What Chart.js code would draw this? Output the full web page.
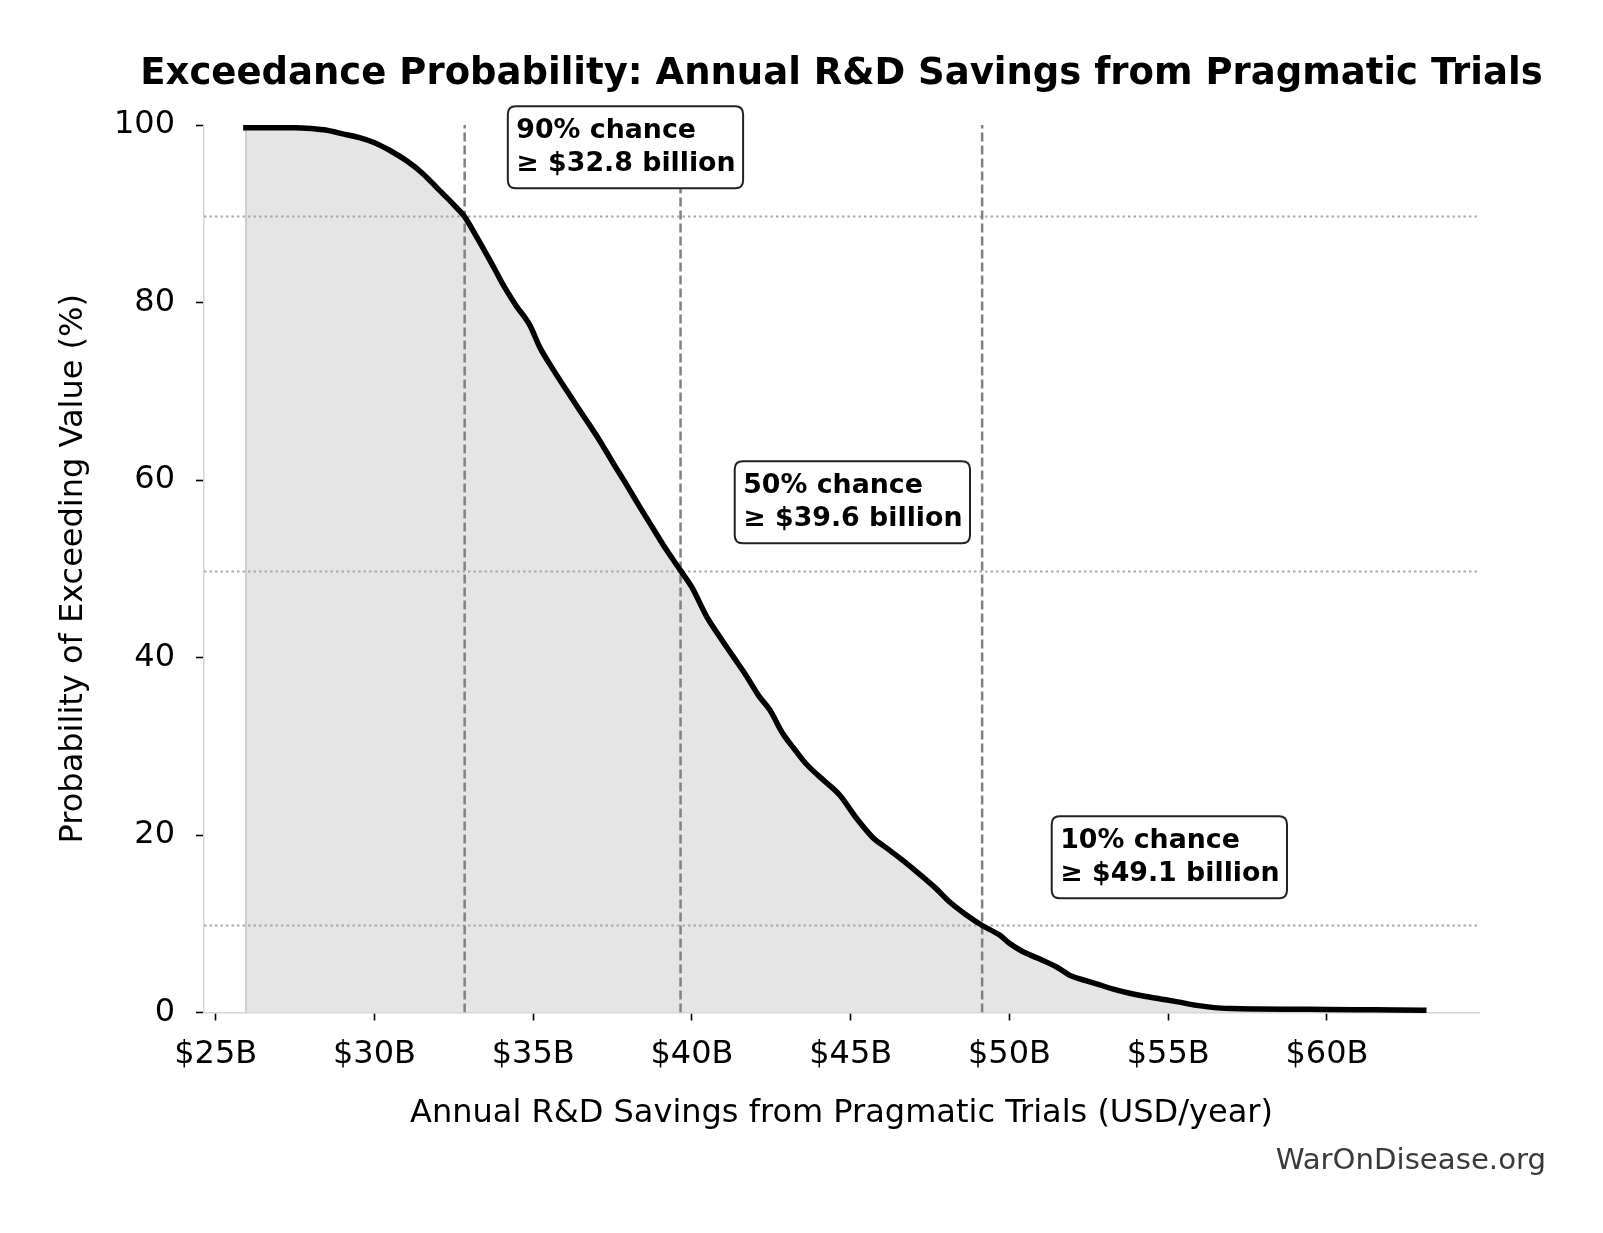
<!DOCTYPE html>
<html><head><meta charset="utf-8">
<script src="https://cdn.jsdelivr.net/npm/chart.js@4.4.1/dist/chart.umd.min.js"></script>
<style>html,body{margin:0;padding:0;background:#fff;}canvas{display:block;}</style>
</head><body>
<canvas id="c" width="1603" height="1233" style="width:1603px;height:1233px"></canvas>
<script>
// ---- data (USD billions / % probability of exceeding) ----
const savingsB = [25.95,26.5,27.0,27.5,28.0,28.5,29.0,29.5,30.0,30.5,31.0,31.5,32.0,32.5,32.83,33.2,33.75,34.1,34.45,34.9,35.2,35.6,36.05,36.4,36.7,37.1,37.5,37.95,38.35,38.8,39.2,39.66,40.0,40.45,40.9,41.3,41.7,42.1,42.45,42.85,43.2,43.6,44.2,44.65,45.2,45.7,46.1,46.55,47.1,47.65,48.1,48.6,49.14,49.7,50.0,50.4,50.9,51.5,51.95,52.4,52.85,53.3,53.75,54.3,54.8,55.3,55.9,56.45,57.0,57.8,59.0,60.0,61.5,63.05];
const exceedPct = [99.7,99.7,99.7,99.7,99.6,99.4,99.0,98.6,98.0,97.1,96.0,94.6,92.8,91.0,89.7,87.5,84.0,81.7,79.7,77.4,75.0,72.6,70.1,68.2,66.6,64.4,62.0,59.4,57.0,54.4,52.1,49.7,47.9,44.7,42.2,40.1,38.0,35.7,34.1,31.5,29.8,28.0,26.0,24.5,21.8,19.7,18.6,17.4,15.8,14.1,12.5,11.1,9.8,8.7,7.8,6.9,6.1,5.1,4.1,3.6,3.1,2.6,2.2,1.8,1.5,1.2,0.8,0.55,0.45,0.4,0.37,0.35,0.3,0.25];
const xTickValues = [25,30,35,40,45,50,55,60];
const yTickValues = [0,20,40,60,80,100];
const markerProb = [90,50,10];
const markerValueB = [32.84,39.64,49.14];
const markerExceedPct = [89.7,49.7,9.8];
const titleText = 'Exceedance Probability: Annual R&D Savings from Pragmatic Trials';
const xLabelText = 'Annual R&D Savings from Pragmatic Trials (USD/year)';
const yLabelText = 'Probability of Exceeding Value (%)';
const watermarkText = 'WarOnDisease.org';

const X_MIN = 24.63, X_MAX = 64.79;
const FONT = '"DejaVu Sans", sans-serif';

const curve = savingsB.map((v,i)=>({x:v,y:exceedPct[i]}));
const datasets = [{
  data: curve, borderColor:'#000', borderWidth:5.5, pointRadius:0, fill:'origin',
  backgroundColor:'#e5e5e5', cubicInterpolationMode:'monotone', order:0, clip:false,
  borderCapStyle:'square', borderJoinStyle:'round'
},{
  data:[{x:savingsB[0],y:0},{x:savingsB[0],y:exceedPct[0]}], borderColor:'#c4c4c4',
  borderWidth:1.5, pointRadius:0, fill:false, order:3
}];
markerValueB.forEach(v=>{
  datasets.push({data:[{x:v,y:0},{x:v,y:100}], borderColor:'#808080', borderWidth:2.5,
    borderDash:[9,4], pointRadius:0, fill:false, order:2});
});
markerExceedPct.forEach(p=>{
  datasets.push({data:[{x:X_MIN,y:p},{x:X_MAX,y:p}], borderColor:'#aaaaaa', borderWidth:2,
    borderDash:[2.5,3], pointRadius:0, fill:false, order:2});
});

function rr(ctx,x,y,w,h,r){
  ctx.beginPath();ctx.moveTo(x+r,y);ctx.lineTo(x+w-r,y);ctx.quadraticCurveTo(x+w,y,x+w,y+r);
  ctx.lineTo(x+w,y+h-r);ctx.quadraticCurveTo(x+w,y+h,x+w-r,y+h);ctx.lineTo(x+r,y+h);
  ctx.quadraticCurveTo(x,y+h,x,y+h-r);ctx.lineTo(x,y+r);ctx.quadraticCurveTo(x,y,x+r,y);ctx.closePath();
}

const decor = {
  id:'decor',
  afterDatasetsDraw(chart){
    const {ctx, scales:{x,y}} = chart;
    ctx.save();
    ctx.font = 'bold 26.8px '+FONT;
    ctx.textBaseline='alphabetic'; ctx.textAlign='left';
    markerProb.forEach((p,i)=>{
      const l1 = p+'% chance';
      const l2 = '\u2265 $'+markerValueB[i].toFixed(1)+' billion';
      const tx = x.getPixelForValue(markerValueB[i]*1.051) - 1.5;
      const cy = y.getPixelForValue(p+7.5);
      const w = Math.max(ctx.measureText(l1).width, ctx.measureText(l2).width);
      rr(ctx, tx-8.5, cy-41, w+16, 82, 8);
      ctx.fillStyle='#fff'; ctx.fill();
      ctx.lineWidth=2; ctx.strokeStyle='#222'; ctx.stroke();
      ctx.fillStyle='#000';
      ctx.fillText(l1, tx, cy-9);
      ctx.fillText(l2, tx, cy+24);
    });
    ctx.restore();
  },
  afterDraw(chart){
    const {ctx, chartArea:a} = chart;
    const cx = (a.left+a.right)/2;
    ctx.save();
    ctx.fillStyle='#000'; ctx.textAlign='center'; ctx.textBaseline='middle';
    ctx.font='bold 37px '+FONT;
    ctx.fillText(titleText, cx, 74);
    ctx.font='32px '+FONT;
    ctx.fillText(xLabelText, cx, 1114);
    ctx.save();
    ctx.translate(74, (a.top+a.bottom)/2); ctx.rotate(-Math.PI/2);
    ctx.fillText(yLabelText, 0, 0);
    ctx.restore();
    ctx.font='29.2px '+FONT; ctx.fillStyle='#3a3a3a'; ctx.textAlign='right';
    ctx.fillText(watermarkText, 1546, 1161);
    ctx.restore();
  }
};

new Chart(document.getElementById('c'), {
  type:'line',
  data:{datasets},
  options:{
    responsive:false, animation:false, devicePixelRatio:1,
    layout:{padding:{left:0,right:124,top:125,bottom:0}},
    plugins:{legend:{display:false}, tooltip:{enabled:false}, title:{display:false}, filler:{drawTime:'beforeDatasetsDraw'}},
    scales:{
      x:{type:'linear', min:X_MIN, max:X_MAX,
        afterBuildTicks:s=>{s.ticks = xTickValues.map(v=>({value:v}));},
        afterFit:s=>{s.height = 1233-1012.5;},
        ticks:{callback:v=>'$'+v+'B', color:'#000', font:{family:FONT,size:32}, padding:15, maxRotation:0, autoSkip:false},
        grid:{drawOnChartArea:false, drawTicks:true, tickLength:8, tickColor:'#000', tickWidth:1.6},
        border:{display:true, color:'#d6d6d6', width:1.5}
      },
      y:{type:'linear', min:0, max:100,
        afterBuildTicks:s=>{s.ticks = yTickValues.map(v=>({value:v}));},
        afterFit:s=>{s.width = 204;},
        ticks:{color:'#000', font:{family:FONT,size:32}, padding:21},
        grid:{drawOnChartArea:false, drawTicks:true, tickLength:8, tickColor:'#000', tickWidth:1.6},
        border:{display:true, color:'#d6d6d6', width:1.5}
      }
    }
  },
  plugins:[decor]
});
</script>
</body></html>
